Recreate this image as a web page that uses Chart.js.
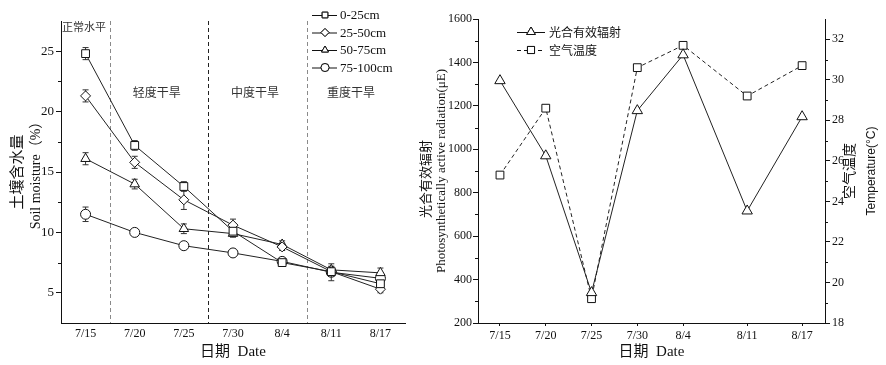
<!DOCTYPE html>
<html>
<head>
<meta charset="utf-8">
<script src="https://cdn.jsdelivr.net/npm/chart.js@4.4.1/dist/chart.umd.min.js"></script>
<style>
    body { margin: 0; background: #fff; width: 886px; height: 365px; overflow: hidden; position: relative; }
    #soilWrap { position: absolute; left: 0; top: 0; width: 415px; height: 365px; }
    #parWrap { position: absolute; left: 415px; top: 0; width: 471px; height: 365px; }
</style>
</head>
<body>
<div id="soilWrap"><canvas id="soilChart" width="415" height="365"></canvas></div>
<div id="parWrap"><canvas id="parChart" width="471" height="365"></canvas></div>
<script>
// ---- data ----
const dates = ['7/15', '7/20', '7/25', '7/30', '8/4', '8/11', '8/17'];
const dayOffsets = [0, 5, 10, 15, 20, 27, 33]; // days after 7/15 (right chart uses a time-like axis)

const depthLabels = ['0-25cm', '25-50cm', '50-75cm', '75-100cm'];
const moisture0to25 = [24.8, 17.2, 13.8, 10.1, 7.5, 6.75, 5.75];
const moisture25to50 = [21.3, 15.8, 12.7, 10.6, 8.8, 6.75, 5.3];
const moisture50to75 = [16.1, 14.0, 10.3, 9.9, 9.0, 6.9, 6.65];
const moisture75to100 = [11.5, 10.0, 8.9, 8.3, 7.6, 6.7, 6.2];
const err0to25 = [0.5, 0.4, 0.4, 0.4, 0.3, 0.3, 0.3];
const err25to50 = [0.5, 0.5, 0.8, 0.5, 0.3, 0.4, 0.3];
const err50to75 = [0.5, 0.4, 0.4, 0.3, 0.3, 0.3, 0.4];
const err75to100 = [0.6, 0.2, 0.2, 0.2, 0.2, 0.7, 0.3];
const moistureTicks = [5, 10, 15, 20, 25];
const moistureMinorTicks = [7.5, 12.5, 17.5, 22.5];

const stageLabels = ['正常水平', '轻度干旱', '中度干旱', '重度干旱'];
const stageBoundaries = [0.5, 2.5, 4.5]; // between categories

const seriesLabels = ['光合有效辐射', '空气温度'];
const parValues = [1316, 970, 340, 1178, 1435, 716, 1150];
const airTemp = [25.3, 28.6, 19.2, 30.6, 31.7, 29.2, 30.7];
const parTicks = [200, 400, 600, 800, 1000, 1200, 1400, 1600];
const parMinorTicks = [300, 500, 700, 900, 1100, 1300, 1500];
const tempTicks = [18, 20, 22, 24, 26, 28, 30, 32];
const tempMinorTicks = [19, 21, 23, 25, 27, 29, 31];

// ---- shared style ----
const SERIF = '"Liberation Serif", "Noto Sans CJK SC", serif';
const CJK = '"Noto Sans CJK SC", sans-serif';
const INK = '#111';

Chart.defaults.animation = false;
Chart.defaults.events = [];
Chart.defaults.color = INK;

function drawPointStyle(ctx, style, x, y, r) {
    ctx.save();
    ctx.fillStyle = '#fff';
    ctx.strokeStyle = INK;
    ctx.lineWidth = 1;
    Chart.helpers.drawPoint(ctx, { pointStyle: style, radius: r, borderWidth: 1 }, x, y);
    ctx.fill();
    ctx.stroke();
    ctx.restore();
}

function drawMinorTicks(ctx, scale, values, side, len) {
    ctx.save();
    ctx.strokeStyle = INK;
    ctx.lineWidth = 1;
    values.forEach(v => {
        const py = Math.round(scale.getPixelForValue(v)) + 0.5;
        const x0 = side === 'left' ? scale.right : scale.left;
        const x1 = side === 'left' ? x0 - len : x0 + len;
        ctx.beginPath();
        ctx.moveTo(x0, py);
        ctx.lineTo(x1, py);
        ctx.stroke();
    });
    ctx.restore();
}

function rotatedText(ctx, text, x, y, font) {
    ctx.save();
    ctx.translate(x, y);
    ctx.rotate(-Math.PI / 2);
    ctx.font = font;
    ctx.textAlign = 'center';
    ctx.textBaseline = 'middle';
    ctx.fillStyle = INK;
    ctx.fillText(text, 0, 0);
    ctx.restore();
}

// ---- left chart: soil moisture ----
const soilSeries = [
    { label: depthLabels[0], data: moisture0to25, err: err0to25, style: 'rect', r: 5.5 },
    { label: depthLabels[1], data: moisture25to50, err: err25to50, style: 'rectRot', r: 5 },
    { label: depthLabels[2], data: moisture50to75, err: err50to75, style: 'triangle', r: 5.5 },
    { label: depthLabels[3], data: moisture75to100, err: err75to100, style: 'circle', r: 5 }
];

const soilExtras = {
    id: 'soilExtras',
    beforeDatasetsDraw(chart) {
        const { ctx, chartArea, scales: { x, y } } = chart;
        ctx.save();
        // drought stage boundaries
        ctx.lineWidth = 1;
        ctx.setLineDash([4, 3]);
        stageBoundaries.forEach((b, i) => {
            const px = Math.round(x.getPixelForValue(b)) + 0.5;
            ctx.strokeStyle = i === 1 ? '#222' : '#8a8a8a';
            ctx.beginPath();
            ctx.moveTo(px, chartArea.top);
            ctx.lineTo(px, chartArea.bottom);
            ctx.stroke();
        });
        ctx.setLineDash([]);
        // error bars
        ctx.strokeStyle = '#333';
        soilSeries.forEach((s, i) => {
            const meta = chart.getDatasetMeta(i);
            s.data.forEach((v, j) => {
                const px = meta.data[j].x;
                const top = y.getPixelForValue(v + s.err[j]);
                const bot = y.getPixelForValue(v - s.err[j]);
                ctx.beginPath();
                ctx.moveTo(px, top); ctx.lineTo(px, bot);
                ctx.moveTo(px - 3, top); ctx.lineTo(px + 3, top);
                ctx.moveTo(px - 3, bot); ctx.lineTo(px + 3, bot);
                ctx.stroke();
            });
        });
        ctx.restore();
    },
    afterDraw(chart) {
        const { ctx, chartArea, scales: { x, y } } = chart;
        drawMinorTicks(ctx, y, moistureMinorTicks, 'left', 3);

        ctx.save();
        ctx.fillStyle = '#333';
        ctx.textBaseline = 'middle';
        // stage labels
        ctx.font = '11px ' + CJK;
        ctx.textAlign = 'left';
        ctx.fillText(stageLabels[0], chartArea.left + 1, 27);
        ctx.textAlign = 'center';
        ctx.font = '12px ' + CJK;
        ctx.fillText(stageLabels[1], x.getPixelForValue(1.45), 92);
        ctx.fillText(stageLabels[2], x.getPixelForValue(3.45), 92);
        ctx.fillText(stageLabels[3], x.getPixelForValue(5.4), 92);

        // legend
        ctx.fillStyle = INK;
        ctx.textAlign = 'left';
        ctx.font = '13px ' + SERIF;
        soilSeries.forEach((s, i) => {
            const ly = 15 + i * 17.5;
            ctx.strokeStyle = INK;
            ctx.lineWidth = 1;
            ctx.beginPath();
            ctx.moveTo(312, ly + 0.5);
            ctx.lineTo(337, ly + 0.5);
            ctx.stroke();
            drawPointStyle(ctx, s.style, 325, ly, 4);
            ctx.fillText(s.label, 340, ly + 1);
        });

        // axis titles
        ctx.textAlign = 'center';
        ctx.font = '15px ' + SERIF;
        ctx.fillText('日期  Date', (chartArea.left + chartArea.right) / 2, 352);
        ctx.restore();
        const cy = (chartArea.top + chartArea.bottom) / 2;
        rotatedText(ctx, '土壤含水量', 16, cy, '15px ' + CJK);
        rotatedText(ctx, 'Soil moisture（%）', 36, cy, '14px ' + SERIF);
    }
};

new Chart(document.getElementById('soilChart'), {
    type: 'line',
    data: {
        labels: dates,
        datasets: soilSeries.map(s => ({
            label: s.label,
            data: s.data,
            borderColor: '#222',
            borderWidth: 1,
            tension: 0,
            pointStyle: s.style,
            pointRadius: s.r,
            pointBackgroundColor: '#fff',
            pointBorderColor: INK,
            pointBorderWidth: 1
        }))
    },
    options: {
        responsive: false,
        layout: { padding: { top: 21, right: 10, left: 0, bottom: 0 } },
        plugins: { legend: { display: false }, tooltip: { enabled: false } },
        scales: {
            x: {
                offset: true,
                grid: { display: false, drawTicks: false, tickLength: 0 },
                border: { display: true, color: INK, width: 1 },
                ticks: { font: { family: SERIF, size: 12 }, color: INK, padding: 4, maxRotation: 0 },
                afterFit: s => { s.height = 42; }
            },
            y: {
                min: 2.5,
                max: 27.5,
                afterBuildTicks: s => { s.ticks = moistureTicks.map(v => ({ value: v })); },
                grid: { display: true, drawOnChartArea: false, drawTicks: true, tickLength: 5, color: INK },
                border: { display: true, color: INK, width: 1 },
                ticks: { font: { family: SERIF, size: 13 }, color: INK, padding: 2, callback: v => String(v) },
                afterFit: s => { s.width = 61; }
            }
        }
    },
    plugins: [soilExtras]
});

// ---- right chart: PAR and air temperature ----
const parExtras = {
    id: 'parExtras',
    afterDraw(chart) {
        const { ctx, chartArea, scales: { y, y1 } } = chart;
        drawMinorTicks(ctx, y, parMinorTicks, 'left', 3);
        drawMinorTicks(ctx, y1, tempMinorTicks, 'right', 3);

        ctx.save();
        ctx.fillStyle = INK;
        ctx.strokeStyle = INK;
        ctx.lineWidth = 1;
        ctx.textBaseline = 'middle';
        ctx.textAlign = 'left';
        ctx.font = '12px ' + CJK;
        // legend row 1: solid + triangle
        ctx.beginPath();
        ctx.moveTo(102, 32.5); ctx.lineTo(130, 32.5);
        ctx.stroke();
        drawPointStyle(ctx, 'triangle', 116, 32, 5);
        ctx.fillText(seriesLabels[0], 134, 32);
        // legend row 2: dashed + square
        ctx.setLineDash([4, 3]);
        ctx.beginPath();
        ctx.moveTo(102, 50.5); ctx.lineTo(130, 50.5);
        ctx.stroke();
        ctx.setLineDash([]);
        drawPointStyle(ctx, 'rect', 116, 50, 5);
        ctx.fillText(seriesLabels[1], 134, 50);

        ctx.textAlign = 'center';
        ctx.font = '15px ' + SERIF;
        ctx.fillText('日期  Date', (chartArea.left + chartArea.right) / 2, 352);
        ctx.restore();

        const cy = (chartArea.top + chartArea.bottom) / 2;
        rotatedText(ctx, '光合有效辐射', 10, cy + 8, '13px ' + CJK);
        rotatedText(ctx, 'Photosynthetically active radiation(μE)', 27, cy, '13px ' + SERIF);
        rotatedText(ctx, '空气温度', 434, cy, '14px ' + CJK);
        rotatedText(ctx, 'Temperature(°C)', 457, cy, '12px "Liberation Sans", sans-serif');
    }
};

new Chart(document.getElementById('parChart'), {
    type: 'line',
    data: {
        datasets: [
            {
                label: seriesLabels[0],
                data: dayOffsets.map((d, i) => ({ x: d, y: parValues[i] })),
                yAxisID: 'y',
                borderColor: '#222',
                borderWidth: 1,
                pointStyle: 'triangle',
                pointRadius: 6,
                pointBackgroundColor: '#fff',
                pointBorderColor: INK,
                pointBorderWidth: 1
            },
            {
                label: seriesLabels[1],
                data: dayOffsets.map((d, i) => ({ x: d, y: airTemp[i] })),
                yAxisID: 'y1',
                borderColor: '#222',
                borderWidth: 1,
                borderDash: [4, 3],
                pointStyle: 'rect',
                pointRadius: 5.5,
                pointBackgroundColor: '#fff',
                pointBorderColor: INK,
                pointBorderWidth: 1
            }
        ]
    },
    options: {
        responsive: false,
        layout: { padding: { top: 19, right: 0, left: 0, bottom: 0 } },
        plugins: { legend: { display: false }, tooltip: { enabled: false } },
        scales: {
            x: {
                type: 'linear',
                min: -2.4,
                max: 35.5,
                afterBuildTicks: s => { s.ticks = dayOffsets.map(v => ({ value: v })); },
                grid: { display: true, drawOnChartArea: false, drawTicks: true, tickLength: 3, color: INK },
                border: { display: true, color: INK, width: 1 },
                ticks: {
                    font: { family: SERIF, size: 12 }, color: INK, padding: 3, maxRotation: 0,
                    callback: v => dates[dayOffsets.indexOf(v)]
                },
                afterFit: s => { s.height = 42; }
            },
            y: {
                position: 'left',
                min: 200,
                max: 1600,
                afterBuildTicks: s => { s.ticks = parTicks.map(v => ({ value: v })); },
                grid: { display: true, drawOnChartArea: false, drawTicks: true, tickLength: 5, color: INK },
                border: { display: true, color: INK, width: 1 },
                ticks: { font: { family: SERIF, size: 12 }, color: INK, padding: 1, callback: v => String(v) },
                afterFit: s => { s.width = 63; }
            },
            y1: {
                position: 'right',
                min: 18,
                max: 33,
                afterBuildTicks: s => { s.ticks = tempTicks.map(v => ({ value: v })); },
                grid: { display: true, drawOnChartArea: false, drawTicks: true, tickLength: 5, color: INK },
                border: { display: true, color: INK, width: 1 },
                ticks: { font: { family: SERIF, size: 12 }, color: INK, padding: 2, callback: v => String(v) },
                afterFit: s => { s.width = 61; }
            }
        }
    },
    plugins: [parExtras]
});
</script>
</body>
</html>
